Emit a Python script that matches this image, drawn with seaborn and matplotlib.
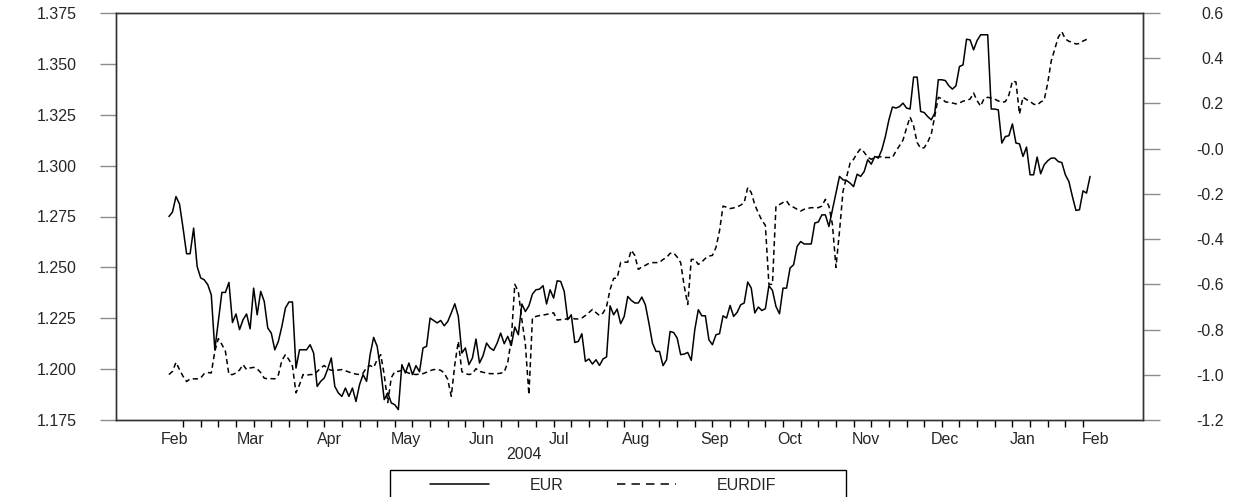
import numpy as np
import pandas as pd
import matplotlib
matplotlib.use('Agg')
import matplotlib.pyplot as plt
from matplotlib.lines import Line2D
import seaborn as sns

# Daily (5-day week) observations starting 12 Feb 2004
start_date = '2004-02-12'

eur = [
    1.2750, 1.2772, 1.2848, 1.2811, 1.2693, 1.2567, 1.2567, 1.2693, 1.2504, 1.2448,
    1.2439, 1.2415, 1.2365, 1.2095, 1.2234, 1.2377, 1.2377, 1.2426, 1.2229, 1.2271,
    1.2194, 1.2243, 1.2271, 1.2198, 1.2398, 1.2267, 1.2382, 1.2333, 1.2202, 1.2177,
    1.2095, 1.2136, 1.2210, 1.2300, 1.2330, 1.2330, 1.2005, 1.2095, 1.2095, 1.2095,
    1.2120, 1.2079, 1.1915, 1.1940,
    1.1956, 1.2001, 1.2055, 1.1915, 1.1883, 1.1866, 1.1907, 1.1866, 1.1907, 1.1841,
    1.1923, 1.1973, 1.1940, 1.2071, 1.2156, 1.2112, 1.1997, 1.1850, 1.1883, 1.1834,
    1.1825, 1.1801, 1.2022, 1.1981, 1.2030, 1.1973, 1.2017, 1.1987, 1.2104, 1.2112,
    1.2251, 1.2239, 1.2227, 1.2239, 1.2213, 1.2234, 1.2276, 1.2321, 1.2259, 1.2079,
    1.2104, 1.2022, 1.2055, 1.2148, 1.2030,
    1.2066, 1.2128, 1.2104, 1.2092, 1.2128, 1.2177, 1.2125, 1.2161, 1.2116, 1.2207,
    1.2169, 1.2320, 1.2283, 1.2311, 1.2369, 1.2390, 1.2393, 1.2410, 1.2320, 1.2390,
    1.2349, 1.2434, 1.2431, 1.2382, 1.2243, 1.2267, 1.2131, 1.2136, 1.2174, 1.2038,
    1.2050, 1.2025, 1.2046, 1.2018, 1.2050, 1.2060, 1.2311, 1.2267, 1.2295, 1.2223,
    1.2259, 1.2357, 1.2338, 1.2325,
    1.2325, 1.2354, 1.2316, 1.2226, 1.2128, 1.2087, 1.2087, 1.2017, 1.2046, 1.2185,
    1.2180, 1.2153, 1.2071, 1.2074, 1.2082, 1.2043, 1.2194, 1.2292, 1.2262, 1.2262,
    1.2144, 1.2120, 1.2169, 1.2174, 1.2262, 1.2251, 1.2313, 1.2259, 1.2279, 1.2316,
    1.2325, 1.2428, 1.2398, 1.2276, 1.2305, 1.2288, 1.2297, 1.2410, 1.2387, 1.2308,
    1.2272, 1.2398, 1.2398, 1.2497,
    1.2513, 1.2603, 1.2627, 1.2615, 1.2615, 1.2615, 1.2718, 1.2723, 1.2758, 1.2758,
    1.2701, 1.2783, 1.2865, 1.2947, 1.2930, 1.2927, 1.2914, 1.2897, 1.2958, 1.2947,
    1.2971, 1.3029, 1.3007, 1.3045, 1.3037, 1.3078, 1.3143, 1.3225, 1.3288, 1.3283,
    1.3290, 1.3307, 1.3283, 1.3278, 1.3435, 1.3435, 1.3266, 1.3261, 1.3241, 1.3225,
    1.3258, 1.3422, 1.3422, 1.3418, 1.3392, 1.3376, 1.3392, 1.3487, 1.3495, 1.3621,
    1.3618, 1.3569, 1.3615, 1.3643, 1.3643, 1.3643, 1.3278, 1.3278, 1.3274, 1.3111,
    1.3143, 1.3147, 1.3205, 1.3111, 1.3107, 1.3045, 1.3091, 1.2955, 1.2955, 1.3042,
    1.2960, 1.3004, 1.3024, 1.3037, 1.3037, 1.3020, 1.3015, 1.2955, 1.2922, 1.2848,
    1.2780, 1.2783, 1.2876, 1.2865, 1.2947,
]

eurdif = [
    -0.999, -0.985, -0.945, -0.977, -1.007, -1.030, -1.018, -1.018, -1.018, -1.014,
    -0.995, -0.990, -0.992, -0.896, -0.840, -0.866, -0.896, -0.999, -0.999, -0.992,
    -0.979, -0.955, -0.977, -0.970, -0.967, -0.974, -0.990, -1.015, -1.018, -1.017,
    -1.018, -1.001, -0.937, -0.911, -0.933, -0.962, -1.080, -1.044, -0.999, -1.002,
    -0.999, -0.999, -0.986, -0.970,
    -0.959, -0.974, -0.980, -0.980, -0.979, -0.977, -0.982, -0.988, -0.993, -0.997,
    -0.999, -0.993, -0.968, -0.959, -0.968, -0.933, -0.911, -0.999, -1.123, -1.013,
    -0.986, -0.985, -0.980, -0.986, -0.993, -0.997, -0.999, -0.997, -0.995, -0.989,
    -0.982, -0.977, -0.977, -0.980, -0.992, -1.021, -1.095, -0.955, -0.852, -0.986,
    -0.995, -0.999, -0.995, -0.973, -0.985,
    -0.989, -0.993, -0.995, -0.995, -0.995, -0.993, -0.988, -0.946, -0.844, -0.600,
    -0.632, -0.756, -0.866, -1.088, -0.748, -0.742, -0.738, -0.736, -0.733, -0.729,
    -0.726, -0.758, -0.756, -0.756, -0.751, -0.748, -0.753, -0.753, -0.749, -0.738,
    -0.725, -0.711, -0.725, -0.738, -0.727, -0.698, -0.623, -0.574, -0.572, -0.503,
    -0.502, -0.502, -0.449, -0.472,
    -0.534, -0.523, -0.516, -0.507, -0.504, -0.504, -0.503, -0.490, -0.481, -0.463,
    -0.461, -0.479, -0.504, -0.608, -0.689, -0.490, -0.490, -0.512, -0.501, -0.485,
    -0.475, -0.472, -0.437, -0.364, -0.254, -0.259, -0.265, -0.262, -0.257, -0.250,
    -0.238, -0.172, -0.194, -0.248, -0.284, -0.317, -0.339, -0.600, -0.600, -0.254,
    -0.247, -0.238, -0.231, -0.254,
    -0.259, -0.268, -0.276, -0.268, -0.264, -0.261, -0.261, -0.261, -0.254, -0.224,
    -0.254, -0.335, -0.525, -0.366, -0.188, -0.126, -0.064, -0.047, -0.020, 0.000,
    -0.016, -0.038, -0.047, -0.038, -0.036, -0.036, -0.039, -0.039, -0.039, -0.011,
    0.013, 0.038, 0.091, 0.140, 0.101, 0.027, 0.002, 0.004, 0.029, 0.064,
    0.144, 0.227, 0.221, 0.207, 0.205, 0.202, 0.198, 0.202, 0.210, 0.214,
    0.219, 0.246, 0.212, 0.188, 0.223, 0.227, 0.224, 0.219, 0.211, 0.205,
    0.208, 0.237, 0.299, 0.295, 0.153, 0.228, 0.217, 0.209, 0.197, 0.193,
    0.206, 0.215, 0.290, 0.388, 0.441, 0.493, 0.517, 0.485, 0.475, 0.470,
    0.463, 0.465, 0.476, 0.483, 0.485,
]

left_ticks = [1.175, 1.200, 1.225, 1.250, 1.275, 1.300, 1.325, 1.350, 1.375]
right_ticks = [-1.2, -1.0, -0.8, -0.6, -0.4, -0.2, 0.0, 0.2, 0.4, 0.6]

dates = pd.bdate_range(start_date, periods=len(eur))
df = pd.DataFrame({'obs': np.arange(len(eur)), 'date': dates,
                   'EUR': eur, 'EURDIF': eurdif})

# month label positions = middle of each month's business days (in obs units)
cal = pd.bdate_range('2004-01-01', '2005-02-28')
offset = cal.get_loc(dates[0])
cal_df = pd.DataFrame({'pos': np.arange(len(cal)) - offset, 'month': cal.to_period('M')})
month_pos = cal_df.groupby('month')['pos'].mean()
month_pos = month_pos[month_pos.index >= pd.Period('2004-02', 'M')]
year_pos = cal_df[cal_df['month'].dt.year == 2004]['pos'].mean()

sns.set_style('white')
plt.rcParams['font.family'] = ['Liberation Sans', 'DejaVu Sans']
fs = 11.5

W, H = 1242, 497
fig = plt.figure(figsize=(W / 100, H / 100), dpi=100)
ax = fig.add_axes([116 / W, 1 - 420 / H, (1143 - 116) / W, (420 - 13) / H])
ax2 = ax.twinx()

dash = (0, (3.4, 2.3))
sns.lineplot(data=df, x='obs', y='EUR', ax=ax, color='black', lw=1.1, legend=False)
sns.lineplot(data=df, x='obs', y='EURDIF', ax=ax2, color='black', lw=1.1,
             linestyle=dash, legend=False)

ax.set_xlim(-15, 276)
ax.set_ylim(1.175, 1.375)
ax2.set_ylim(-1.2, 0.6)
ax.set_xlabel('')
ax.set_ylabel('')
ax2.set_ylabel('')

spine_col = '#333333'
for a in (ax, ax2):
    for s in a.spines.values():
        s.set_color(spine_col)
        s.set_linewidth(1.0)

# weekly ticks (Wednesdays), month names in between
ax.set_xticks(df.loc[df['date'].dt.weekday == 2, 'obs'])
ax.set_xticklabels([])
ax.set_xticks(month_pos.values, minor=True)
ax.set_xticklabels([p.strftime('%b') for p in month_pos.index], minor=True)
ax.tick_params(axis='x', which='major', direction='out', length=5, width=1.0,
               color='black', bottom=True)
ax.tick_params(axis='x', which='minor', length=0, pad=8.5, labelsize=fs)
ax.text(year_pos, -27 / 407, '2004', transform=ax.get_xaxis_transform(),
        ha='center', va='top', fontsize=fs)

ax.set_yticks(left_ticks)
ax.set_yticklabels([f'{v:.3f}' for v in left_ticks])
ax.tick_params(axis='y', direction='out', length=11.5, width=1.0, color='#8c8c8c',
               pad=17, labelsize=fs, left=True)

ax2.set_yticks(right_ticks)
ax2.set_yticklabels([f'{v:.1f}' if abs(v) > 1e-9 else '-0.0' for v in right_ticks])
ax2.tick_params(axis='y', direction='out', length=12.2, width=1.0, color='#8c8c8c',
                pad=46, labelsize=fs, right=True)
for t in ax2.get_yticklabels():
    t.set_horizontalalignment('right')

# legend box at the bottom
fig.add_artist(plt.Rectangle((390 / W, -0.05), (846 - 390) / W, 0.05 + (H - 470) / H,
                             transform=fig.transFigure, fill=False,
                             ec='black', lw=1.0))
handles = [Line2D([], [], color='black', lw=1.1),
           Line2D([], [], color='black', lw=1.1, linestyle=(0, (5.5, 4.0)))]
fig.legend(handles, ['EUR', 'EURDIF'], loc='center left', ncol=2,
           bbox_to_anchor=(430 / W, 1 - 485 / H), frameon=False,
           borderpad=0, borderaxespad=0, fontsize=fs,
           handlelength=3.69, handletextpad=2.56, columnspacing=3.37)

fig.savefig('out.png', dpi=100)
